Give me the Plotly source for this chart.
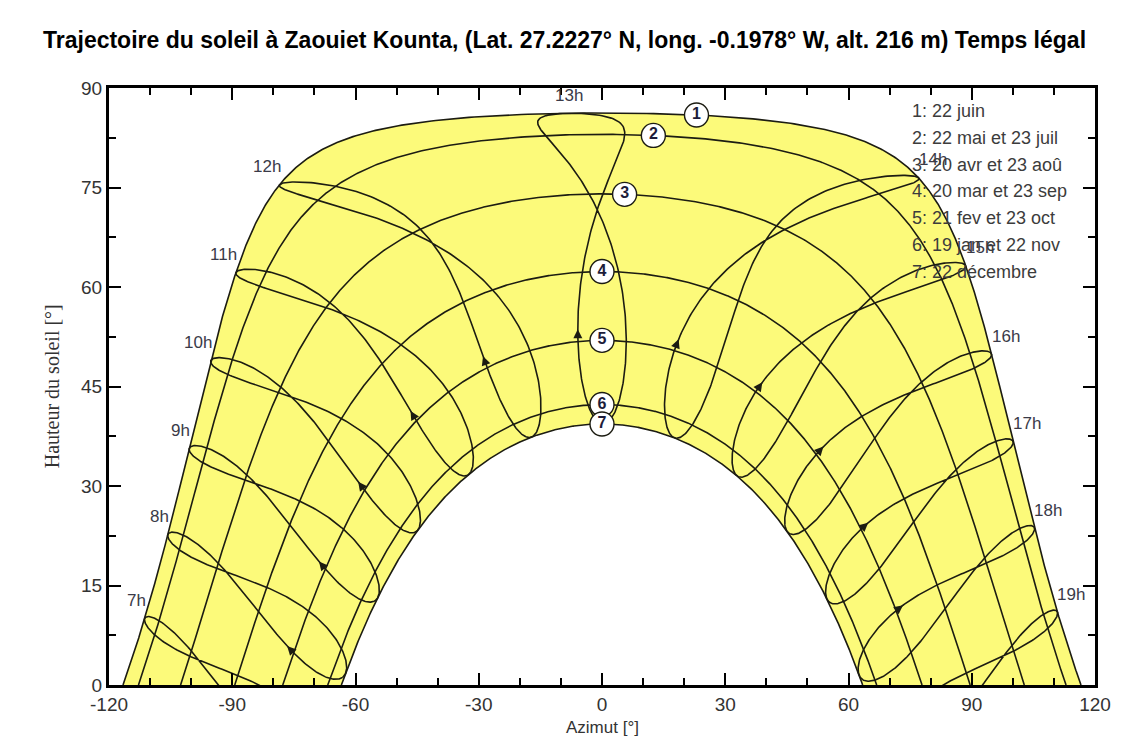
import numpy as np
import plotly.graph_objects as go

# ---------------- data ----------------
LATITUDE = 27.2227      # deg N
LONGITUDE = -0.1978     # deg (east positive)
UTC_OFFSET = 1.0        # legal time = UTC + 1 h

curve_ids = ["1", "2", "3", "4", "5", "6", "7"]
curve_days = [173, 142, 110, 79, 52, 19, 356]          # day of year for each date curve
legend_texts = ["1: 22 juin", "2: 22 mai et 23 juil", "3: 20 avr et 23 aoû",
                "4: 20 mar et 23 sep", "5: 21 fev et 23 oct", "6: 19 jan et 22 nov",
                "7: 22 décembre"]
curve_label_az = [23.0, 12.5, 5.5, 0.0, 0.0, 0.0, 0.0]  # azimuth of the circled labels

hours = [7, 8, 9, 10, 11, 12, 13, 14, 15, 16, 17, 18, 19]
hour_labels = ["7h", "8h", "9h", "10h", "11h", "12h", "13h", "14h", "15h", "16h", "17h", "18h", "19h"]
arrow_day = 57

x_ticks = [-120, -90, -60, -30, 0, 30, 60, 90, 120]
y_ticks = [0, 15, 30, 45, 60, 75, 90]

TITLE = "Trajectoire du soleil à Zaouiet Kounta, (Lat. 27.2227° N, long. -0.1978° W, alt. 216 m) Temps légal"

YELLOW = "rgb(252,250,122)"
LINE = "#1c1c12"
FONT = "Arial, Liberation Sans, sans-serif"


def sun_position(day, legal_hour):
    day = np.asarray(day, dtype=float)
    legal_hour = np.asarray(legal_hour, dtype=float)
    g = 2 * np.pi / 365.0 * (day - 1 + (legal_hour - 12) / 24.0)
    eot = 229.18 * (0.000075 + 0.001868 * np.cos(g) - 0.032077 * np.sin(g)
                    - 0.014615 * np.cos(2 * g) - 0.040849 * np.sin(2 * g))
    decl = (0.006918 - 0.399912 * np.cos(g) + 0.070257 * np.sin(g)
            - 0.006758 * np.cos(2 * g) + 0.000907 * np.sin(2 * g)
            - 0.002697 * np.cos(3 * g) + 0.00148 * np.sin(3 * g))
    tst = legal_hour * 60 - UTC_OFFSET * 60 + 4 * LONGITUDE + eot
    ha = np.radians(tst / 4.0 - 180.0)
    phi = np.radians(LATITUDE)
    up = np.sin(phi) * np.sin(decl) + np.cos(phi) * np.cos(decl) * np.cos(ha)
    south = np.sin(phi) * np.cos(decl) * np.cos(ha) - np.cos(phi) * np.sin(decl)
    west = np.cos(decl) * np.sin(ha)
    alt = np.degrees(np.arcsin(np.clip(up, -1, 1)))
    az = np.degrees(np.arctan2(west, south))
    return az, alt


def day_curve(day):
    t = np.arange(3.0, 23.0, 1.0 / 120.0)
    az, alt = sun_position(np.full_like(t, day), t)
    idx = np.where(alt >= 0)[0]
    i0, i1 = idx[0], idx[-1]
    f0 = alt[i0] / (alt[i0] - alt[i0 - 1])
    az0 = az[i0] + (az[i0 - 1] - az[i0]) * f0
    f1 = alt[i1] / (alt[i1] - alt[i1 + 1])
    az1 = az[i1] + (az[i1 + 1] - az[i1]) * f1
    x = np.concatenate([[az0], az[i0:i1 + 1], [az1]])
    y = np.concatenate([[0.0], alt[i0:i1 + 1], [0.0]])
    return x, y


fig = go.Figure()

# yellow band between 22 June and 22 December
jx, jy = day_curve(curve_days[0])
dx, dy = day_curve(curve_days[-1])
fig.add_trace(go.Scatter(x=np.concatenate([jx, dx[::-1]]), y=np.concatenate([jy, dy[::-1]]),
                         fill="toself", fillcolor=YELLOW, mode="lines",
                         line=dict(width=0), hoverinfo="skip", showlegend=False))

# hour lines (analemmas)
days = np.arange(1, 367)
for h in hours:
    az, alt = sun_position(days, np.full(days.shape, float(h)))
    fig.add_trace(go.Scatter(x=az, y=alt, mode="lines", line=dict(color=LINE, width=1.6),
                             hoverinfo="skip", showlegend=False))

# date curves
curves = []
for d in curve_days:
    x, y = day_curve(d)
    curves.append((x, y))
    fig.add_trace(go.Scatter(x=x, y=y, mode="lines", line=dict(color=LINE, width=1.6),
                             hoverinfo="skip", showlegend=False))

# circled curve numbers
cx, cy = [], []
for (x, y), a in zip(curves, curve_label_az):
    cx.append(a)
    cy.append(float(np.interp(a, x, y)))
fig.add_trace(go.Scatter(x=cx, y=cy, mode="markers+text", text=[f"<b>{c}</b>" for c in curve_ids],
                         textposition="middle center",
                         textfont=dict(family=FONT, size=16, color="#1c1c3a"),
                         marker=dict(size=24, color="white", line=dict(color=LINE, width=1.4)),
                         hoverinfo="skip", showlegend=False, cliponaxis=False))

annotations = []
# hour labels at the June end of each hour line
for h, lab in zip(hours, hour_labels):
    a, e = sun_position(curve_days[0], float(h))
    a, e = float(a), float(e)
    if h < 13:
        xa, xs = "right", 3
    elif h == 13:
        xa, xs = "center", 0
    else:
        xa, xs = "left", -2
    annotations.append(dict(x=a, y=e, xref="x", yref="y", text=lab, showarrow=False,
                            xanchor=xa, yanchor="middle", xshift=xs, yshift=18,
                            font=dict(family=FONT, size=17, color="#3a3a48")))

# direction arrows on the hour lines
for h in hours:
    a1, e1 = sun_position(arrow_day, float(h))
    a0, e0 = sun_position(arrow_day - 4, float(h))
    if float(e0) > 0.5:
        annotations.append(dict(x=float(a1), y=float(e1), ax=float(a0), ay=float(e0),
                                xref="x", yref="y", axref="x", ayref="y", text="",
                                showarrow=True, arrowhead=2, arrowsize=1.8, arrowwidth=1,
                                arrowcolor=LINE))

# legend text
leg_y0 = 86.5
for i, t in enumerate(legend_texts):
    annotations.append(dict(x=75.0, y=leg_y0 - i * 4.03, xref="x", yref="y", text=t,
                            showarrow=False, xanchor="left", yanchor="middle",
                            font=dict(family=FONT, size=18, color="#3c3c3c")))

# axis titles
annotations.append(dict(x=0.5, y=-0.072, xref="paper", yref="paper", text="Azimut [°]",
                        showarrow=False, xanchor="center", yanchor="middle",
                        font=dict(family=FONT, size=17, color="#333333")))
annotations.append(dict(x=-0.058, y=0.5, xref="paper", yref="paper",
                        text="Hauteur du soleil [°]", textangle=-90, showarrow=False,
                        xanchor="center", yanchor="middle",
                        font=dict(family="Liberation Serif, Times New Roman, serif", size=20,
                                  color="#333333")))

axis_common = dict(showline=True, linewidth=3, linecolor="black", mirror="allticks",
                   ticks="inside", ticklen=12, tickwidth=1.5, tickcolor="black",
                   showgrid=False, zeroline=False,
                   tickfont=dict(family=FONT, size=19, color="#333333"))

fig.update_layout(
    width=1129, height=744,
    margin=dict(l=109, r=34, t=88, b=59),
    paper_bgcolor="white", plot_bgcolor="white",
    title=dict(text=f"<b>{TITLE}</b>", x=0.5, xref="container", xanchor="center",
               y=1 - 40 / 744, yref="container", yanchor="middle",
               font=dict(family=FONT, size=23, color="black")),
    xaxis=dict(range=[-120, 120], tickvals=x_ticks, ticktext=[str(v) for v in x_ticks],
               minor=dict(dtick=10, tick0=0, ticks="inside", ticklen=7, tickwidth=1.5,
                          tickcolor="black"),
               **axis_common),
    yaxis=dict(range=[0, 90], tickvals=y_ticks, ticktext=[str(v) for v in y_ticks],
               minor=dict(dtick=7.5, tick0=0, ticks="inside", ticklen=7, tickwidth=1.5,
                          tickcolor="black"),
               **axis_common),
    annotations=annotations,
    showlegend=False,
)

fig.write_html("out.html")
